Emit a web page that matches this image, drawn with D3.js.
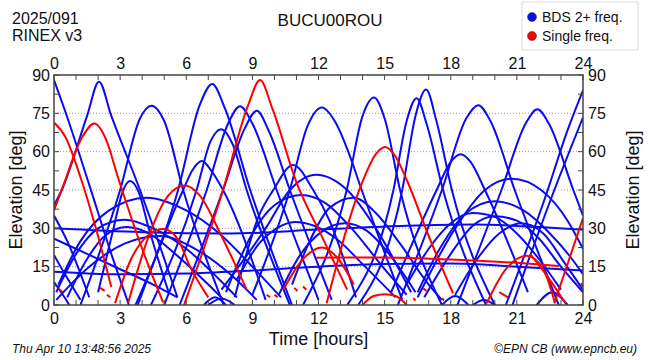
<!DOCTYPE html>
<html>
<head>
<meta charset="utf-8">
<script src="https://cdn.jsdelivr.net/npm/d3@7"></script>
<style>
  body { margin: 0; background: #fff; }
  text { font-family: "Liberation Sans", Arial, sans-serif; fill: #111; }
</style>
</head>
<body>
<div class="canvas"></div>
<script>
// tick values
const hourTicks = d3.range(0, 25, 3);
const hourMinor = d3.range(0, 25, 1);
const elevTicks = [0, 15, 30, 45, 60, 75, 90];
const elevMinor = d3.range(0, 91, 7.5);
const gridLines = [15, 30, 45, 60, 75];

// BDS dual-freq arcs: [hour, elevation]
const bdsArcs = [
  [[0,88],[0.5,76],[1.6,47],[2.6,20],[3.4,0]],
  [[0,39],[0.35,45],[1.5,74],[2.04,87.4],[2.6,74],[3.9,45],[5.6,3]],
  [[1.2,0],[3.0,45],[3.9,73],[4.43,78],[5.0,72],[5.86,45],[7.7,0]],
  [[3.7,0],[5.63,45],[6.6,78],[7.18,86.5],[7.75,77],[8.9,45],[10.8,0]],
  [[5.0,0],[6.93,45],[7.9,71],[8.44,77.8],[9.0,71],[10.1,45],[12.0,2]],
  [[5.7,0],[7.67,45],[8.65,69],[9.2,76],[9.75,68],[10.7,45],[12.6,2]],
  [[4.4,0],[6.47,45],[7.1,64],[7.58,68.8],[8.1,63],[8.74,45],[10.7,0]],
  [[3.8,0],[5.86,45],[6.3,53],[6.71,56.3],[7.1,53],[7.67,45],[9.6,2]],
  [[2.0,5],[2.7,30],[3.1,44],[3.45,48.5],[3.85,44],[4.3,30],[5.2,5]],
  [[8.2,3],[9.3,35],[9.95,45],[10.85,54.8],[11.76,45],[12.5,33],[13.7,3]],
  [[7.6,6],[9.6,30],[10.7,45],[11.9,51],[13.3,45],[14.6,30],[16.2,5]],
  [[9.0,4],[10.7,45],[11.5,70],[12.15,77.3],[12.8,71],[13.35,60],[13.96,45],[15.8,2]],
  [[11.3,0],[13.28,45],[14.0,74],[14.52,81.2],[15.0,73],[15.7,45],[17.6,0]],
  [[13.3,0],[15.4,45],[16.0,72],[16.45,80.9],[16.9,71],[17.65,45],[19.6,0]],
  [[13.8,0],[15.8,45],[16.4,74],[16.88,84.3],[17.35,72],[18.05,45],[20.0,0]],
  [[15.6,0],[17.6,45],[18.7,73],[19.25,78.2],[19.8,72],[20.9,45],[22.9,0]],
  [[18.3,0],[20.3,45],[21.4,71],[21.93,76.6],[22.45,71],[23.56,45],[24,35]],
  [[15.3,5],[17.36,45],[18.0,56],[18.45,59],[18.9,56],[19.55,45],[21.5,5]],
  [[16.5,3],[18.2,30],[19.55,45],[20.77,49.4],[22.1,45],[23.3,33],[24,22]],
  [[20.5,0],[22.4,45],[23.2,66],[24,84]],
  [[20.8,0],[22.7,45],[24,73.4]],
  // long flat passes
  [[0,30],[4,28.5],[8,28],[12,29.5],[16,31],[19,31.5],[22,30.5],[24,29.5]],
  [[0,13],[3,12],[6,12.3],[9,13.5],[12,15],[15,16],[18,16.2],[21,15],[24,13.5]],
  // low / medium arcs
  [[0,35],[0.6,25],[1.6,3]],
  [[0,19.6],[0.5,12],[1.2,2]],
  [[0,9],[0.4,4],[0.7,0]],
  [[0.2,8],[1.2,25],[2.5,37],[4.2,42],[6,37],[7.5,28],[9,15],[10.3,3]],
  [[0.1,5],[1.0,20],[2.0,30],[3.2,33.4],[4.5,30],[6,22],[7.5,10],[8.3,3]],
  [[0.6,3],[1.5,18],[2.3,27],[3.3,30.5],[4.3,28],[5.5,20],[7,8],[7.7,2]],
  [[0,26],[1.5,20],[3,14],[4.5,8],[5.6,3]],
  [[0.1,2],[1.6,15],[3.2,24],[4.8,27],[6.4,22],[8,12],[9.2,2]],
  [[7.8,5],[9,28],[10,39],[11.2,43],[12.3,40],[13.5,30],[15,14],[16,4]],
  [[10.8,8],[11.6,25],[12.5,38],[13.6,42],[14.6,36],[15.7,24],[17,8],[17.6,2]],
  [[8.3,10],[9.3,24],[10.1,30],[10.93,32.5],[11.8,31],[12.8,26],[14,16],[15.5,3]],
  [[10.2,4],[11.2,20],[12.2,29],[13.2,32],[14.2,29],[15.2,20],[16.4,5]],
  [[16.5,5],[17.5,22],[18.7,36],[20.0,40.6],[21.3,37],[22.5,28],[23.5,18],[24,12]],
  [[16.8,3],[18,20],[19,31],[20,34.7],[21,33],[22,26],[23,15],[24,5]],
  [[18.2,4],[19.2,18],[20.2,28],[21.2,32],[22.2,28],[23.2,16],[24,6]],
  [[16,8],[17,22],[18,32],[19,36],[20,34.5],[21,28],[22,18],[23,6]],
  [[6.8,0],[7.3,3],[7.8,0]],
  [[7.0,0],[7.6,2.5],[8.2,0]],
  [[17.6,0],[18.2,3.5],[18.8,0]],
  [[19.0,0],[19.5,2],[20,0]],
  [[21.9,0],[22.6,5],[23.3,0]]
];

// single-freq arcs
const singleArcs = [
  [[0,71.4],[0.5,66],[1.2,50],[1.9,30],[2.6,7]],
  [[0,37],[0.35,45],[1.3,66],[1.83,71],[2.35,65],[2.9,50],[4.0,22],[4.95,1]],
  [[5.9,0],[7.67,45],[8.8,78],[9.35,88],[9.9,77],[11.0,48],[12.2,26],[13.3,6]],
  [[12.37,0.7],[14.03,49],[14.6,59],[15.02,61.8],[15.5,58],[16.0,49],[17.0,27],[18.1,4.6]],
  [[2.77,0.7],[3.5,18],[4.3,27.5],[4.96,29.7],[5.6,26],[6.17,15],[7.0,3]],
  [[3.37,1],[4.3,27],[5.2,43],[5.94,46.8],[6.6,43],[7.6,27],[8.74,6]],
  [[14.0,0],[14.5,3.5],[15.0,4.2],[15.5,3.5],[16.0,0]],
  [[11.9,18.5],[15,18.6],[18,17.8],[21,16.5],[22.9,15.3]],
  [[10.4,6],[11.3,18],[12.15,22.5],[12.9,18],[13.6,8]],
  [[19.63,0.7],[20.5,14],[21.45,19.3],[22.2,14],[22.73,0.7]],
  [[22.7,0.7],[24,34]],
  [[21.6,20],[22.4,11],[23.2,0.7]],
  // short tails
  [[0.2,6.5],[0.4,5]], [[2.1,6.7],[2.3,5.5]], [[2.4,4],[2.55,3]],
  [[9.65,4],[9.8,3]], [[10.9,6.7],[11.05,5.5]], [[11.3,7.2],[11.45,6]],
  [[10.0,4],[10.15,3]], [[16.75,6.5],[16.9,5.5]], [[17.6,2.6],[17.7,1.8]],
  [[16.3,2.6],[16.4,1.8]], [[20.2,5],[20.6,3]], [[23.9,8.5],[24,7.5]]
];

const margin = {top: 75, right: 67, bottom: 55, left: 54},
    width = 650 - margin.left - margin.right,
    height = 360 - margin.top - margin.bottom;

const root = d3.select(".canvas")
  .append("svg")
    .attr("width", 650)
    .attr("height", 360);

const svg = root.append("g")
    .attr("transform", `translate(${margin.left},${margin.top})`);

const x = d3.scaleLinear().domain([0, 24]).range([0, width]);
const y = d3.scaleLinear().domain([0, 90]).range([height, 0]);

svg.append("clipPath").attr("id", "plot")
  .append("rect").attr("width", width).attr("height", height);

// dotted grid
svg.selectAll(".grid")
  .data(gridLines)
  .join("line")
    .attr("x1", 0).attr("x2", width)
    .attr("y1", d => y(d)).attr("y2", d => y(d))
    .attr("stroke", "#999")
    .attr("stroke-width", 1)
    .attr("stroke-dasharray", "1,2");

const line = d3.line()
    .x(d => x(d[0]))
    .y(d => y(d[1]))
    .curve(d3.curveMonotoneX);

const arcs = svg.append("g").attr("clip-path", "url(#plot)");

arcs.selectAll(".bds")
  .data(bdsArcs)
  .join("path")
    .attr("d", line)
    .attr("fill", "none")
    .attr("stroke", "#0a0af5")
    .attr("stroke-width", 2);

arcs.selectAll(".single")
  .data(singleArcs)
  .join("path")
    .attr("d", line)
    .attr("fill", "none")
    .attr("stroke", "#ff0000")
    .attr("stroke-width", 2);

// axes: labels every 3h / 15deg, minor ticks inward
const tickFont = "16px";
svg.append("g")
    .attr("transform", `translate(0,${height})`)
    .call(d3.axisBottom(x).tickValues(hourTicks).tickSize(0).tickPadding(8))
    .call(g => g.select(".domain").remove())
    .selectAll("text").style("font-size", tickFont);
svg.append("g")
    .call(d3.axisTop(x).tickValues(hourTicks).tickSize(0).tickPadding(6))
    .call(g => g.select(".domain").remove())
    .selectAll("text").style("font-size", tickFont);
svg.append("g")
    .call(d3.axisLeft(y).tickValues(elevTicks).tickSize(0).tickPadding(4))
    .call(g => g.select(".domain").remove())
    .selectAll("text").style("font-size", tickFont);
svg.append("g")
    .attr("transform", `translate(${width},0)`)
    .call(d3.axisRight(y).tickValues(elevTicks).tickSize(0).tickPadding(5))
    .call(g => g.select(".domain").remove())
    .selectAll("text").style("font-size", tickFont);

const ticks = svg.append("g").attr("stroke", "#444").attr("stroke-width", 1);
hourMinor.forEach(h => {
  ticks.append("line").attr("x1", x(h)).attr("x2", x(h)).attr("y1", height).attr("y2", height - 5);
  ticks.append("line").attr("x1", x(h)).attr("x2", x(h)).attr("y1", 0).attr("y2", 5);
});
elevMinor.forEach(e => {
  ticks.append("line").attr("x1", 0).attr("x2", 5).attr("y1", y(e)).attr("y2", y(e));
  ticks.append("line").attr("x1", width).attr("x2", width - 5).attr("y1", y(e)).attr("y2", y(e));
});

svg.append("rect")
    .attr("width", width).attr("height", height)
    .attr("fill", "none")
    .attr("stroke", "#444")
    .attr("stroke-width", 1.5);

// axis titles
svg.append("text")
    .attr("text-anchor", "middle")
    .attr("x", width / 2)
    .attr("y", height + 40)
    .style("font-size", "18px")
    .text("Time [hours]");
svg.append("text")
    .attr("text-anchor", "middle")
    .attr("transform", "rotate(-90)")
    .attr("x", -height / 2)
    .attr("y", -margin.left + 22)
    .style("font-size", "18px")
    .text("Elevation [deg]");
svg.append("text")
    .attr("text-anchor", "middle")
    .attr("transform", "rotate(-90)")
    .attr("x", -height / 2)
    .attr("y", width + 56)
    .style("font-size", "18px")
    .text("Elevation [deg]");

// header
root.append("text").attr("x", 12).attr("y", 24).style("font-size", "16px").text("2025/091");
root.append("text").attr("x", 12).attr("y", 41).style("font-size", "16px").text("RINEX v3");
root.append("text").attr("x", 330).attr("y", 26).attr("text-anchor", "middle")
    .style("font-size", "17px").text("BUCU00ROU");

// legend
const legend = root.append("g");
legend.append("rect")
    .attr("x", 522).attr("y", 2).attr("width", 116).attr("height", 48)
    .attr("fill", "#fff").attr("stroke", "#ddd");
[["BDS 2+ freq.", "#0a0af5"], ["Single freq.", "#ff0000"]].forEach((d, i) => {
  legend.append("circle").attr("cx", 532).attr("cy", 17 + i * 19).attr("r", 4.5)
      .attr("fill", d[1]).attr("stroke", "#333").attr("stroke-width", 0.5);
  legend.append("text").attr("x", 542).attr("y", 22 + i * 19)
      .style("font-size", "14px").text(d[0]);
});

// footer
root.append("text").attr("x", 12).attr("y", 353)
    .style("font-size", "12px").style("font-style", "italic")
    .text("Thu Apr 10 13:48:56 2025");
root.append("text").attr("x", 637).attr("y", 353).attr("text-anchor", "end")
    .style("font-size", "12px").style("font-style", "italic")
    .text("\u00a9EPN CB (www.epncb.eu)");
</script>
</body>
</html>
